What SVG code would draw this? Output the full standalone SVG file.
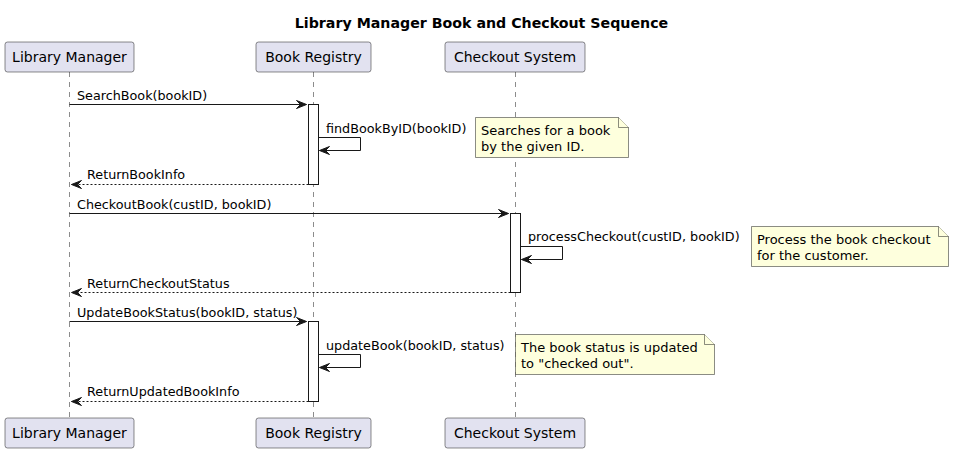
<svg xmlns="http://www.w3.org/2000/svg" width="954" height="453" viewBox="0 0 954 453">
<style>
.part{fill:#E2E2F0;stroke:#181818;stroke-width:0.5}
.ptxt{font-family:"DejaVu Sans",sans-serif;font-size:14px;fill:#000;text-anchor:middle}
.life{stroke:#181818;stroke-width:0.5;stroke-dasharray:5,5;fill:none}
.act{fill:#fff;stroke:#181818;stroke-width:1}
.msg{stroke:#181818;stroke-width:1;fill:none}
.ret{stroke:#181818;stroke-width:1;fill:none;stroke-dasharray:2,2}
.head{fill:#181818;stroke:#181818;stroke-width:1}
.mtxt{font-family:"DejaVu Sans",sans-serif;font-size:12.75px;fill:#000}
.ntxt{font-family:"DejaVu Sans",sans-serif;font-size:13px;fill:#000}
.note{fill:#FEFFDD;stroke:#181818;stroke-width:0.5}
.title{font-family:"DejaVu Sans",sans-serif;font-size:14.2px;font-weight:bold;fill:#000;text-anchor:middle}
</style>
<rect width="954" height="453" fill="#fff"/>
<text class="title" x="481.5" y="28">Library Manager Book and Checkout Sequence</text>
<g id="lifelines">
<line class="life" x1="69.5" y1="72" x2="69.5" y2="418"/>
<line class="life" x1="313.5" y1="72" x2="313.5" y2="418"/>
<line class="life" x1="515.5" y1="72" x2="515.5" y2="418"/>
</g>
<g id="library-manager">
<rect class="part" x="5" y="42" width="129" height="30" rx="2.5"/>
<text class="ptxt" x="69.5" y="62">Library Manager</text>
<rect class="part" x="5" y="418" width="129" height="30" rx="2.5"/>
<text class="ptxt" x="69.5" y="438">Library Manager</text>
</g>
<g id="book-registry">
<rect class="part" x="256" y="42" width="115" height="30" rx="2.5"/>
<text class="ptxt" x="313.5" y="62">Book Registry</text>
<rect class="part" x="256" y="418" width="115" height="30" rx="2.5"/>
<text class="ptxt" x="313.5" y="438">Book Registry</text>
</g>
<g id="checkout-system">
<rect class="part" x="445" y="42" width="140" height="30" rx="2.5"/>
<text class="ptxt" x="515" y="62">Checkout System</text>
<rect class="part" x="445" y="418" width="140" height="30" rx="2.5"/>
<text class="ptxt" x="515" y="438">Checkout System</text>
</g>
<g id="activations">
<rect class="act" x="308.5" y="104.5" width="10" height="80"/>
<rect class="act" x="510.5" y="213.5" width="10" height="79"/>
<rect class="act" x="308.5" y="321.5" width="10" height="80"/>
</g>
<g id="connectors">
<line class="msg" x1="69.5" y1="104.5" x2="306.5" y2="104.5"/>
<polygon class="head" points="296.5,100.5 306.5,104.5 296.5,108.5 300.5,104.5"/>
<text class="mtxt" x="77" y="100">SearchBook(bookID)</text>
<polyline class="msg" points="318.5,137.5 360.5,137.5 360.5,150.5 319.5,150.5"/>
<polygon class="head" points="329.5,146.5 319.5,150.5 329.5,154.5 325.5,150.5"/>
<text class="mtxt" x="326" y="133">findBookByID(bookID)</text>
<line class="ret" x1="308.5" y1="184.5" x2="71.5" y2="184.5"/>
<polygon class="head" points="81.5,180.5 71.5,184.5 81.5,188.5 77.5,184.5"/>
<text class="mtxt" x="87" y="179">ReturnBookInfo</text>

<line class="msg" x1="69.5" y1="213.5" x2="508.5" y2="213.5"/>
<polygon class="head" points="498.5,209.5 508.5,213.5 498.5,217.5 502.5,213.5"/>
<text class="mtxt" x="77" y="209">CheckoutBook(custID, bookID)</text>
<polyline class="msg" points="520.5,246.5 562.5,246.5 562.5,259.5 521.5,259.5"/>
<polygon class="head" points="531.5,255.5 521.5,259.5 531.5,263.5 527.5,259.5"/>
<text class="mtxt" x="528" y="241">processCheckout(custID, bookID)</text>
<line class="ret" x1="510.5" y1="292.5" x2="71.5" y2="292.5"/>
<polygon class="head" points="81.5,288.5 71.5,292.5 81.5,296.5 77.5,292.5"/>
<text class="mtxt" x="87" y="288">ReturnCheckoutStatus</text>

<line class="msg" x1="69.5" y1="321.5" x2="306.5" y2="321.5"/>
<polygon class="head" points="296.5,317.5 306.5,321.5 296.5,325.5 300.5,321.5"/>
<text class="mtxt" x="77" y="317">UpdateBookStatus(bookID, status)</text>
<polyline class="msg" points="318.5,354.5 360.5,354.5 360.5,367.5 319.5,367.5"/>
<polygon class="head" points="329.5,363.5 319.5,367.5 329.5,371.5 325.5,367.5"/>
<text class="mtxt" x="326" y="350">updateBook(bookID, status)</text>
<line class="ret" x1="308.5" y1="401.5" x2="71.5" y2="401.5"/>
<polygon class="head" points="81.5,397.5 71.5,401.5 81.5,405.5 77.5,401.5"/>
<text class="mtxt" x="87" y="396">ReturnUpdatedBookInfo</text>
</g>
<g id="note1">
<path class="note" d="M475.5,117.5 L618.5,117.5 L628.5,127.5 L628.5,157.5 L475.5,157.5 Z"/>
<path class="note" d="M618.5,117.5 L618.5,127.5 L628.5,127.5"/>
<text class="ntxt" x="481" y="135">Searches for a book</text>
<text class="ntxt" x="481" y="151">by the given ID.</text>
</g>
<g id="note2">
<path class="note" d="M751.5,226.5 L938.5,226.5 L948.5,236.5 L948.5,266.5 L751.5,266.5 Z"/>
<path class="note" d="M938.5,226.5 L938.5,236.5 L948.5,236.5"/>
<text class="ntxt" x="757" y="244">Process the book checkout</text>
<text class="ntxt" x="757" y="260">for the customer.</text>
</g>
<g id="note3">
<path class="note" d="M515.5,334.5 L704.5,334.5 L714.5,344.5 L714.5,374.5 L515.5,374.5 Z"/>
<path class="note" d="M704.5,334.5 L704.5,344.5 L714.5,344.5"/>
<text class="ntxt" x="521" y="352">The book status is updated</text>
<text class="ntxt" x="521" y="368">to "checked out".</text>
</g>
</svg>
